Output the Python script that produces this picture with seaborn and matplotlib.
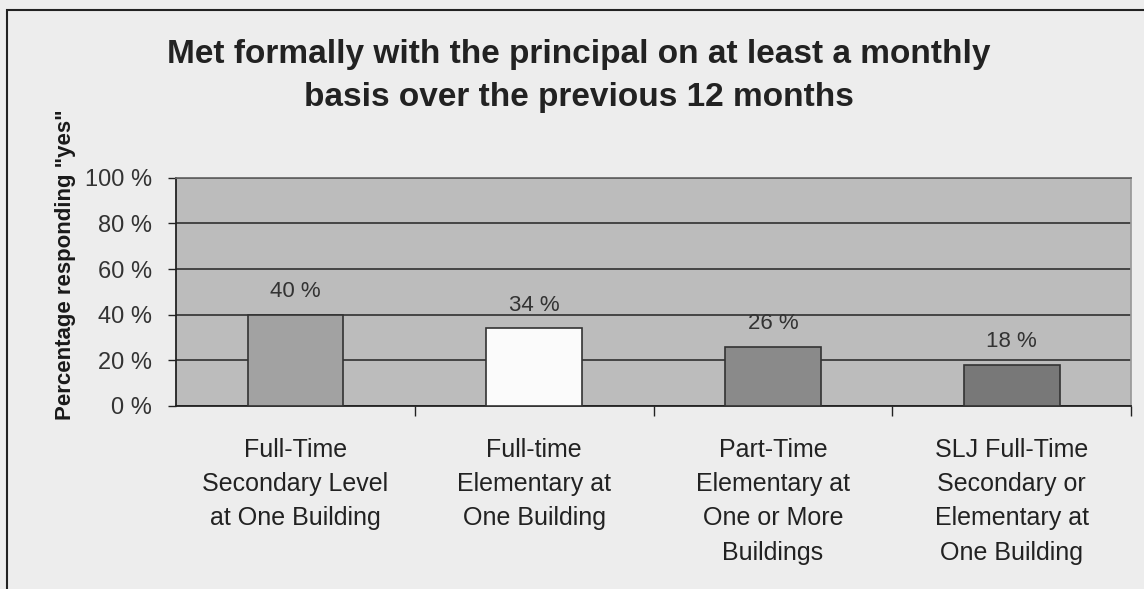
import pandas as pd
import seaborn as sns
import matplotlib.pyplot as plt
from matplotlib import font_manager
from matplotlib.patches import Rectangle

# data
categories = ['Full-Time\nSecondary Level\nat One Building',
              'Full-time\nElementary at\nOne Building',
              'Part-Time\nElementary at\nOne or More\nBuildings',
              'SLJ Full-Time\nSecondary or\nElementary at\nOne Building']
values = [40, 34, 26, 18]
bar_colors = ['#a2a2a2', '#fbfbfb', '#8a8a8a', '#787878']
y_ticks = [0, 20, 40, 60, 80, 100]

df = pd.DataFrame({'category': categories, 'value': values})

sns.set_theme(style='white')
plt.rcParams['font.family'] = ['Liberation Sans', 'DejaVu Sans']

# narrow face for the y label if it is there
names = {f.name for f in font_manager.fontManager.ttflist}
if 'Liberation Sans Narrow' in names:
    ylab_font, ylab_size = 'Liberation Sans Narrow', 20
else:
    ylab_font, ylab_size = 'Liberation Sans', 16

fig = plt.figure(figsize=(11.44, 5.89), dpi=100, facecolor='#ededed')
ax = fig.add_axes([0.1538, 0.311, 0.835, 0.387])
ax.set_facecolor('#bcbcbc')

sns.barplot(data=df, x='category', y='value', hue='category',
            palette=bar_colors, width=0.4, edgecolor='#333333',
            linewidth=1.2, legend=False, ax=ax, zorder=3)

# value labels above the bars
for i, v in enumerate(values):
    ax.annotate(f'{v} %', (i, v), xytext=(0, 9), textcoords='offset points',
                ha='center', va='bottom', fontsize=16, color='#333333')

ax.set_ylim(0, 100)
ax.set_xlim(-0.5, 3.5)
ax.set_yticks(y_ticks)
ax.set_yticklabels([f'{t} %' for t in y_ticks], fontsize=17, color='#333333')
ax.yaxis.grid(True, color='#444444', linewidth=1.4)
ax.set_axisbelow(True)

# ticks between categories, labels centred under bars
ax.set_xticks(range(len(categories)))
ax.set_xticklabels(categories, fontsize=18, color='#222222', linespacing=1.54,
                   va='top')
ax.set_xticks([0.5, 1.5, 2.5, 3.5], minor=True)
ax.tick_params(axis='x', which='major', length=0, pad=23)
ax.tick_params(axis='x', which='minor', length=7, width=1, color='#222222',
               direction='out', bottom=True)
ax.tick_params(axis='y', length=6, width=1, color='#222222', direction='out',
               left=True, pad=11)

for side in ['left', 'bottom']:
    ax.spines[side].set_color('#222222')
    ax.spines[side].set_linewidth(1.3)
ax.spines['top'].set_color('#666666')
ax.spines['right'].set_color('#999999')

ax.set_xlabel('')
ax.set_ylabel('Percentage responding "yes"', fontsize=ylab_size, color='#1a1a1a',
              family=[ylab_font, 'DejaVu Sans'], fontweight='bold')
ax.yaxis.set_label_coords(-0.105, 0.62)

fig.text(0.506, 0.871, 'Met formally with the principal on at least a monthly\n'
         'basis over the previous 12 months', ha='center', va='center',
         fontsize=24, fontweight='bold', color='#222222', linespacing=1.54)

# outer frame of the scanned chart
fig.patches.append(Rectangle((0.006, -0.1), 1.1, 1.083, transform=fig.transFigure,
                             fill=False, edgecolor='#222222', linewidth=1.5))

fig.savefig('out.png', dpi=100, facecolor=fig.get_facecolor())
